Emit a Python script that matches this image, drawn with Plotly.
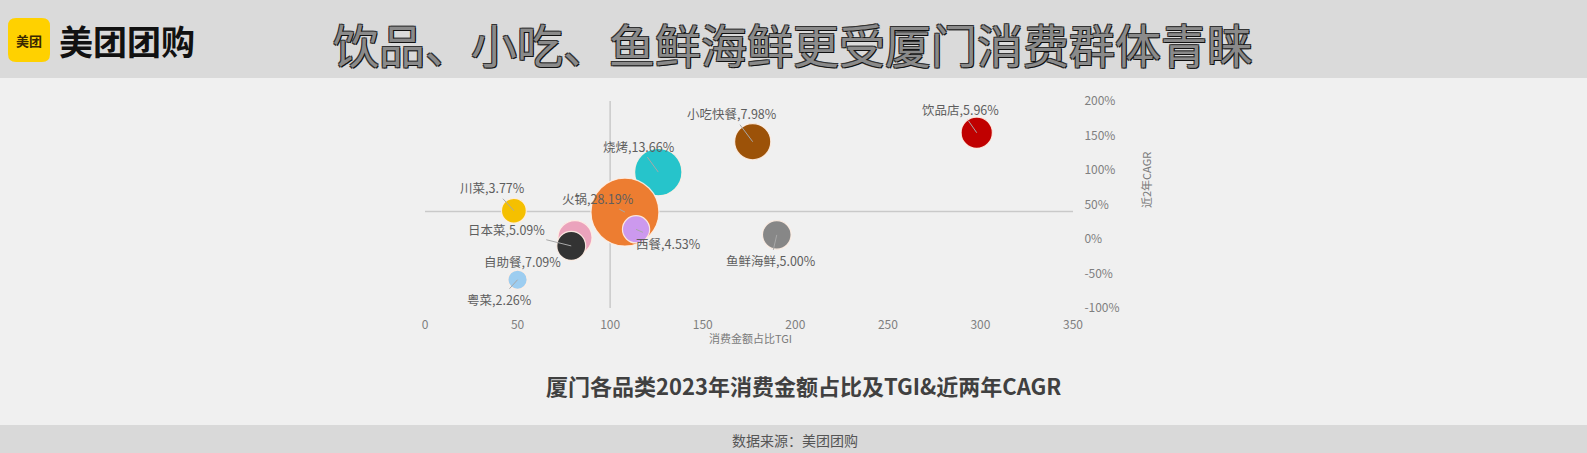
import plotly.graph_objects as go

# ---------------- data ----------------
categories = ["自助餐", "日本菜", "川菜", "粤菜", "烧烤", "火锅", "西餐", "小吃快餐", "鱼鲜海鲜", "饮品店"]
tgi = [81, 79, 48, 50, 126, 108, 114, 177, 190, 298]            # 消费金额占比TGI
cagr = [2, -10, 41, -59, 97, 39, 14, 141, 6, 154]               # 近2年CAGR (%)
share = [7.09, 5.09, 3.77, 2.26, 13.66, 28.19, 4.53, 7.98, 5.00, 5.96]  # 消费金额占比 (%)
share_text = ["7.09%", "5.09%", "3.77%", "2.26%", "13.66%", "28.19%", "4.53%", "7.98%", "5.00%", "5.96%"]

x_ticks = [0, 50, 100, 150, 200, 250, 300, 350]
y_ticks = [-100, -50, 0, 50, 100, 150, 200]
y_ticktext = ["-100%", "-50%", "0%", "50%", "100%", "150%", "200%"]
tgi_cross = 100
cagr_cross = 40

title_main = "饮品、小吃、鱼鲜海鲜更受厦门消费群体青睐"
subtitle = "厦门各品类2023年消费金额占比及TGI&近两年CAGR"
source = "数据来源：美团团购"
brand = "美团团购"

# ---------------- styles ----------------
colors = ["#EBA3BC", "#333333", "#F5C000", "#9DCDF0", "#26C4CB", "#ED7D31",
          "#CC99EE", "#9C5208", "#878787", "#C00000"]
label_offsets = [(-52, 24), (-65, -16), (-21, -23), (-18, 20), (-19, -26),
                 (-27, -14), (32, 14), (-21, -28), (-6, 26), (-16, -23)]
leader_visible = [False, True, True, True, True, True, True, True, True, True]

W_FIG, H_FIG = 1587, 453
L, R, T, B = 425, 1587 - 1073, 101, 453 - 308
PW, PH = W_FIG - L - R, H_FIG - T - B
FONT = "Noto Sans CJK SC, Noto Sans, sans-serif"


def px(x):
    return (x - L) / PW


def py(y):
    return (H_FIG - B - y) / PH


fig = go.Figure()

fig.add_trace(go.Scatter(
    x=tgi, y=cagr, mode="markers",
    marker=dict(size=share, sizemode="area",
                sizeref=2 * max(share) / (68 ** 2),
                color=colors, opacity=1,
                line=dict(width=1.2, color="rgba(255,240,230,0.9)")),
    hoverinfo="skip", showlegend=False,
))

annotations = []
for c, xv, yv, st, off, vis in zip(categories, tgi, cagr, share_text, label_offsets, leader_visible):
    annotations.append(dict(
        x=xv, y=yv, xref="x", yref="y", text=f"{c},{st}",
        showarrow=True, ax=off[0], ay=off[1], arrowhead=0, arrowwidth=1,
        arrowcolor="#A8A8A8" if vis else "rgba(0,0,0,0)", standoff=0, startstandoff=0,
        font=dict(family=FONT, size=12.5, color="#5E5E5E"),
    ))

# titles and texts
annotations += [
    dict(x=px(793), y=py(43), xref="paper", yref="paper", text=title_main, showarrow=False,
         xanchor="center", yanchor="middle",
         font=dict(family=FONT, size=46, color="#8A8A8A", weight="normal",
                   shadow="1px 1px 0px #111111, -1px -1px 0px #333333, 1px -1px 0px #333333, -1px 1px 0px #333333")),
    dict(x=px(57), y=py(40), xref="paper", yref="paper", text=brand, showarrow=False,
         xanchor="left", yanchor="middle",
         font=dict(family=FONT, size=34, color="#111111", weight="bold")),
    dict(x=px(29), y=py(40), xref="paper", yref="paper", text="美团", showarrow=False,
         xanchor="center", yanchor="middle",
         font=dict(family=FONT, size=13, color="#3A2800", weight="bold")),
    dict(x=px(803), y=py(385), xref="paper", yref="paper", text=subtitle, showarrow=False,
         xanchor="center", yanchor="middle",
         font=dict(family=FONT, size=22, color="#404040", weight="bold")),
    dict(x=px(795), y=py(440), xref="paper", yref="paper", text=source, showarrow=False,
         xanchor="center", yanchor="middle",
         font=dict(family=FONT, size=14, color="#555555")),
    dict(x=px(750), y=py(338), xref="paper", yref="paper", text="消费金额占比TGI", showarrow=False,
         xanchor="center", yanchor="middle",
         font=dict(family=FONT, size=11, color="#7A7A7A")),
    dict(x=px(1146), y=py(180), xref="paper", yref="paper", text="近2年CAGR", showarrow=False,
         xanchor="center", yanchor="middle", textangle=-90,
         font=dict(family=FONT, size=11, color="#7A7A7A")),
]

# logo rounded square path (paper coords)
x0, x1, y0, y1, rr = 8, 50, 18, 62, 8
logo_path = (
    f"M {px(x0 + rr)} {py(y0)} L {px(x1 - rr)} {py(y0)} Q {px(x1)} {py(y0)} {px(x1)} {py(y0 + rr)} "
    f"L {px(x1)} {py(y1 - rr)} Q {px(x1)} {py(y1)} {px(x1 - rr)} {py(y1)} "
    f"L {px(x0 + rr)} {py(y1)} Q {px(x0)} {py(y1)} {px(x0)} {py(y1 - rr)} "
    f"L {px(x0)} {py(y0 + rr)} Q {px(x0)} {py(y0)} {px(x0 + rr)} {py(y0)} Z"
)

shapes = [
    dict(type="rect", xref="paper", yref="paper", x0=px(0), x1=px(W_FIG), y0=py(0), y1=py(78),
         fillcolor="#DADADA", line=dict(width=0), layer="below"),
    dict(type="rect", xref="paper", yref="paper", x0=px(0), x1=px(W_FIG), y0=py(425), y1=py(H_FIG),
         fillcolor="#D9D9D9", line=dict(width=0), layer="below"),
    dict(type="path", xref="paper", yref="paper", path=logo_path,
         fillcolor="#FFD100", line=dict(width=0), layer="below"),
    dict(type="line", xref="x", yref="y", x0=tgi_cross, x1=tgi_cross, y0=min(y_ticks), y1=max(y_ticks),
         line=dict(color="#C9C9C9", width=1.5), layer="below"),
    dict(type="line", xref="x", yref="y", x0=min(x_ticks), x1=max(x_ticks), y0=cagr_cross, y1=cagr_cross,
         line=dict(color="#C9C9C9", width=1.5), layer="below"),
]

fig.update_layout(
    width=W_FIG, height=H_FIG,
    margin=dict(l=L, r=R, t=T, b=B, pad=0),
    paper_bgcolor="#F0F0F0", plot_bgcolor="rgba(0,0,0,0)",
    font=dict(family=FONT),
    annotations=annotations, shapes=shapes,
    xaxis=dict(range=[min(x_ticks), max(x_ticks)], tickvals=x_ticks, showgrid=False, zeroline=False,
               showline=False, ticks="outside", ticklen=6, tickcolor="rgba(0,0,0,0)",
               tickfont=dict(family=FONT, size=12, color="#7F7F7F")),
    yaxis=dict(range=[min(y_ticks), max(y_ticks)], tickvals=y_ticks, ticktext=y_ticktext,
               side="right", showgrid=False, zeroline=False, showline=False,
               ticks="outside", ticklen=8, tickcolor="rgba(0,0,0,0)",
               tickfont=dict(family=FONT, size=12, color="#7F7F7F")),
)

fig.write_html(
    "out.html",
    config={"displayModeBar": False},
    post_script="document.body.style.margin='0';document.body.style.padding='0';"
                "document.body.style.overflow='hidden';document.body.style.background='#F0F0F0';",
)
